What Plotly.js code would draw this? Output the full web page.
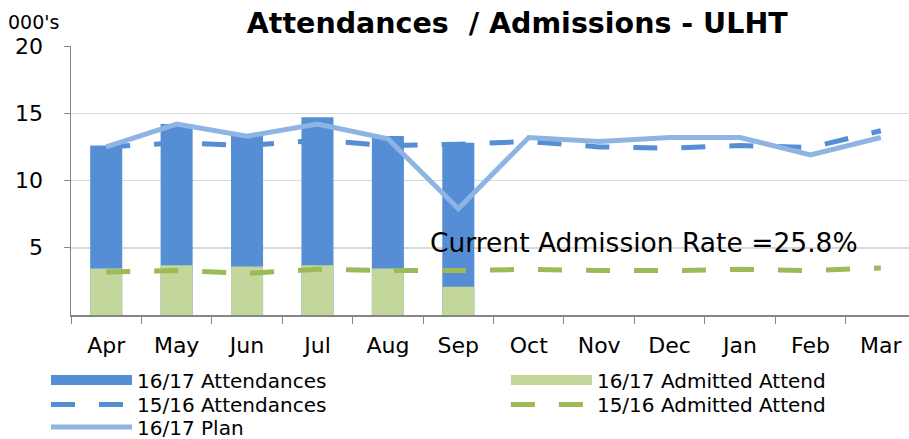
<!DOCTYPE html>
<html>
<head>
<meta charset="utf-8">
<script src="https://cdn.plot.ly/plotly-3.0.1.min.js"></script>
<style>html,body{margin:0;padding:0;background:#fff;}#chart{width:909px;height:439px;}</style>
</head>
<body>
<div id="chart"></div>
<script>
const months = ['Apr','May','Jun','Jul','Aug','Sep','Oct','Nov','Dec','Jan','Feb','Mar'];
const att1617 = [12.6, 14.2, 13.3, 14.7, 13.3, 12.8];
const adm1617 = [3.45, 3.7, 3.6, 3.7, 3.45, 2.1];
const att1516 = [12.5, 12.8, 12.6, 13.0, 12.6, 12.7, 12.9, 12.5, 12.4, 12.6, 12.45, 13.7];
const adm1516 = [3.2, 3.3, 3.1, 3.4, 3.3, 3.3, 3.4, 3.3, 3.3, 3.4, 3.3, 3.5];
const plan1617 = [12.5, 14.2, 13.3, 14.2, 13.1, 7.9, 13.2, 12.9, 13.2, 13.2, 11.9, 13.2];
const yTicks = [5, 10, 15, 20];

const FONT = 'DejaVu Sans';
const C_ATT = '#558ED5', C_ADM = '#C3D69B', C_ADM_L = '#9BBB59', C_PLAN = '#8EB4E3';
const traces = [
  {type:'bar', name:'16/17 Attendances', x:months.slice(0, att1617.length), y:att1617,
   marker:{color:C_ATT}, width:0.455, showlegend:false},
  {type:'bar', name:'16/17 Admitted Attend', x:months.slice(0, adm1617.length), y:adm1617,
   marker:{color:C_ADM}, width:0.455, showlegend:false},
  /* legend swatches for the two bar series (wide rectangles like the reference) */
  {type:'scatter', mode:'lines', name:'16/17 Attendances', x:[months[0]], y:[null],
   line:{color:C_ATT, width:14}, legend:'legend', hoverinfo:'skip'},
  {type:'scatter', mode:'lines', name:'16/17 Admitted Attend', x:[months[0]], y:[null],
   line:{color:C_ADM, width:14}, legend:'legend2', hoverinfo:'skip'},
  {type:'scatter', mode:'lines', name:'15/16 Attendances', x:months, y:att1516,
   line:{color:C_ATT, width:5, dash:'24px,24px'}, legend:'legend3'},
  {type:'scatter', mode:'lines', name:'15/16 Admitted Attend', x:months, y:adm1516,
   line:{color:C_ADM_L, width:5, dash:'24px,24px'}, legend:'legend4'},
  {type:'scatter', mode:'lines', name:'16/17 Plan', x:months, y:plan1617,
   line:{color:C_PLAN, width:5}, legend:'legend5'}
];

function leg(x, y) {
  return {orientation:'v', x:x, xanchor:'left', y:y, yanchor:'middle', itemwidth:81,
    font:{family:FONT, size:20, color:'#000'}, bgcolor:'rgba(0,0,0,0)'};
}
const COL1 = -0.0298, COL2 = 0.519;
const ROW1 = -0.2416, ROW2 = -0.3327, ROW3 = -0.4164;

const layout = {
  width:909, height:439,
  margin:{l:71, r:0, t:46, b:124, autoexpand:false},
  paper_bgcolor:'#fff', plot_bgcolor:'#fff',
  barmode:'overlay',
  showlegend:true,
  font:{family:FONT, color:'#000'},
  title:{text:'<b>Attendances  / Admissions - ULHT</b>', font:{family:FONT, size:28.5, color:'#000'},
         x:0.569, xref:'container', xanchor:'center', y:0.948, yref:'container', yanchor:'middle'},
  xaxis:{type:'category', range:[-0.5, 11.4], showline:true, linecolor:'#868686', linewidth:1.5,
         ticks:'outside', ticklen:7, tickcolor:'#868686', tickson:'boundaries',
         tickfont:{family:FONT, size:22, color:'#000'}, ticklabelstandoff:10, showgrid:false, fixedrange:true},
  yaxis:{range:[0,20], tickvals:yTicks, showline:true, linecolor:'#868686', linewidth:1.5,
         ticks:'outside', ticklen:6, tickcolor:'#868686', gridcolor:'#D9D9D9', gridwidth:1.5,
         zeroline:false, tickfont:{family:FONT, size:22, color:'#000'}, ticklabelstandoff:16, fixedrange:true},
  legend:leg(COL1, ROW1),
  legend2:leg(COL2, ROW1),
  legend3:leg(COL1, ROW2),
  legend4:leg(COL2, ROW2),
  legend5:leg(COL1, ROW3),
  annotations:[
    {text:"000's", xref:'paper', yref:'paper', x:-0.0445, y:1.089, xanchor:'center', yanchor:'middle',
     showarrow:false, font:{family:FONT, size:19, color:'#000'}},
    {text:'Current Admission Rate =25.8%', xref:'paper', yref:'paper', x:0.684, y:0.271,
     xanchor:'center', yanchor:'middle', showarrow:false, font:{family:FONT, size:26.5, color:'#000'}}
  ]
};

Plotly.newPlot('chart', traces, layout, {displayModeBar:false, staticPlot:true});
</script>
</body>
</html>
